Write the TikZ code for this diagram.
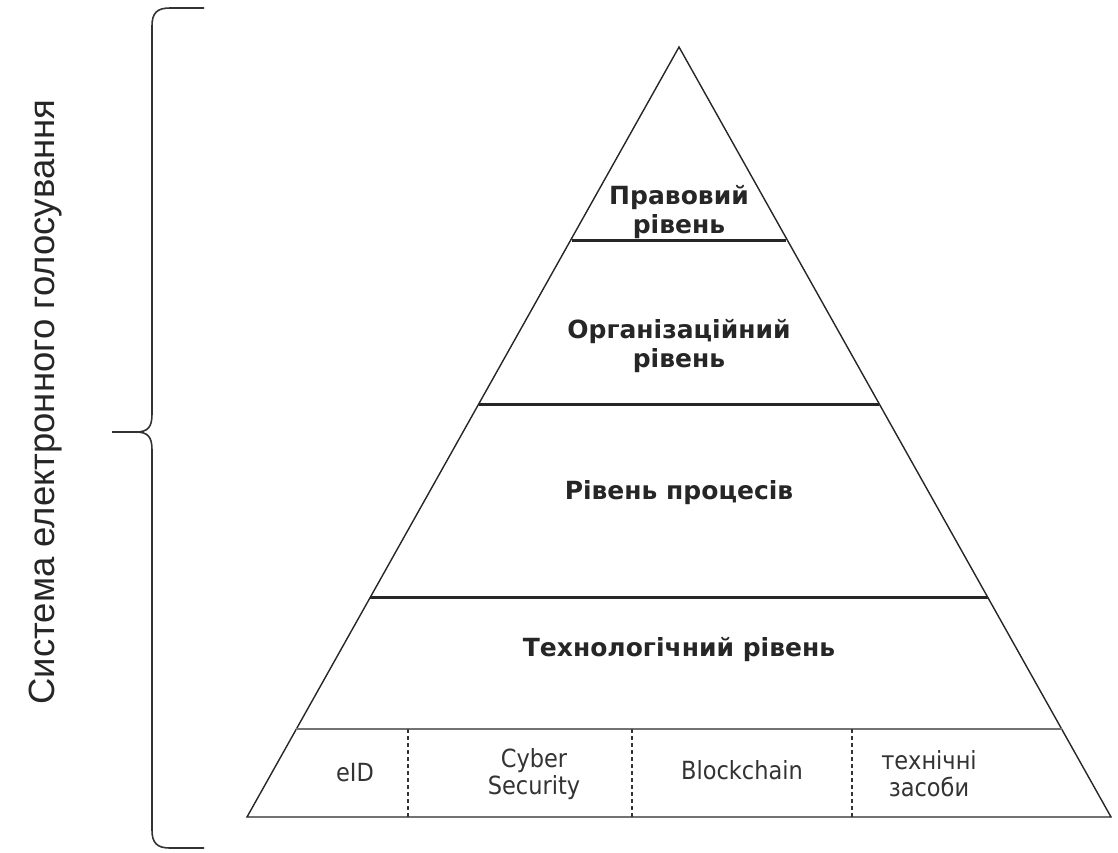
\documentclass[tikz,border=0pt]{standalone}
\usepackage{fontspec}
\setmainfont{DejaVu Sans}
\newfontfamily\cellfont{DejaVu Sans Condensed}
\newfontfamily\sidefont{Liberation Sans}
\begin{document}
\begin{tikzpicture}[x=1pt,y=-1pt,
  edge/.style={line width=1.4pt,black!85},
  tier/.style={line width=3pt,black!85},
  tierlabel/.style={font=\fontsize{25}{29}\selectfont\bfseries,align=center,text=black!85},
  cell/.style={font=\cellfont\fontsize{25}{27}\selectfont,align=center,text=black!80},
  sep/.style={line width=1.2pt,dashed,dash pattern=on 4pt off 3pt,black!80}]
\useasboundingbox (0,0) rectangle (1118,852);
% pyramid outline
\coordinate (apex) at (679,47);
\coordinate (bl) at (247,817);
\coordinate (br) at (1111,817);
\draw[edge,line join=miter] (bl) -- (apex) -- (br) -- cycle;
% tier boundaries
\coordinate (l1) at (572,240);  \coordinate (r1) at (786,240);
\coordinate (l2) at (479,404);  \coordinate (r2) at (879,404);
\coordinate (l3) at (370,597);  \coordinate (r3) at (988,597);
\coordinate (l4) at (296,729);  \coordinate (r4) at (1062,729);
\draw[tier] (l1) -- (r1);
\draw[tier] (l2) -- (r2);
\draw[tier] (l3) -- (r3);
\draw[line width=1.4pt,black!55] (l4) -- (r4);
% dashed cell separators
\coordinate (d1t) at (408,729); \coordinate (d1b) at (408,817);
\coordinate (d2t) at (632,729); \coordinate (d2b) at (632,817);
\coordinate (d3t) at (852,729); \coordinate (d3b) at (852,817);
\draw[sep] (d1t) -- (d1b);
\draw[sep] (d2t) -- (d2b);
\draw[sep] (d3t) -- (d3b);
% tier labels
\node[tierlabel] (t1) at (679,212) {Правовий\\рівень};
\node[tierlabel] (t2) at (679,346) {Організаційний\\рівень};
\node[tierlabel] (t3) at (679,493) {Рівень процесів};
\node[tierlabel] (t4) at (679,650) {Технологічний рівень};
% base cells
\node[cell] (c1) at (355,773) {eID};
\node[cell] (c2) at (534,774) {Cyber\\Security};
\node[cell] (c3) at (742,770) {Blockchain};
\node[cell] (c4) at (929,774) {технічні\\засоби};
% brace over the whole system
\draw[line width=1.6pt,black!80]
  (204,8) -- (170,8) .. controls (157,8) and (152,13) .. (152,26)
  -- (152,414) .. controls (152,427) and (148,432) .. (136,432) -- (112,432)
  (136,432) .. controls (148,432) and (152,437) .. (152,450)
  -- (152,830) .. controls (152,843) and (157,848) .. (170,848) -- (204,848);
\node[rotate=90,font=\sidefont\fontsize{36.5}{38}\selectfont,text=black!85] (sys) at (46,402) {Система електронного голосування};
\end{tikzpicture}
\end{document}
